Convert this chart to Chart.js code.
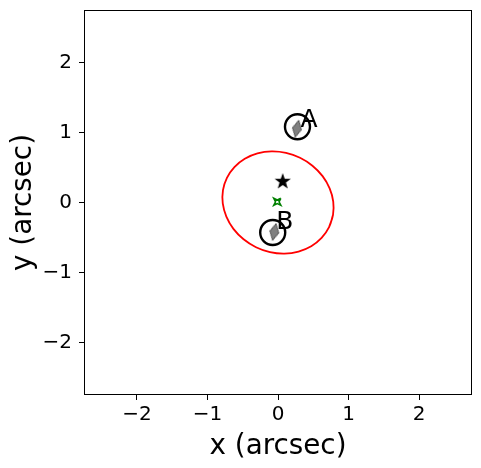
<!DOCTYPE html>
<html>
<head>
<meta charset="utf-8">
<script src="https://cdn.jsdelivr.net/npm/chart.js@4"></script>
<style>
html,body{margin:0;padding:0;background:#fff;}
canvas{display:block;}
</style>
</head>
<body>
<canvas id="c" width="481" height="468"></canvas>
<script>
// ---- data ----
const xTicks = [-2, -1, 0, 1, 2];
const yTicks = [-2, -1, 0, 1, 2];
const axisRange = [-2.75, 2.75];

// critical curve (red), traced points
const critX = [0.724, 0.780, 0.783, 0.732, 0.632, 0.488, 0.312, 0.114, -0.092, -0.291, -0.471, -0.618,
               -0.724, -0.780, -0.783, -0.732, -0.632, -0.488, -0.312, -0.114, 0.092, 0.291, 0.471, 0.618];
const critY = [-0.353, -0.176, 0.014, 0.202, 0.377, 0.526, 0.639, 0.709, 0.730, 0.701, 0.625, 0.506,
               0.353, 0.176, -0.014, -0.202, -0.377, -0.526, -0.639, -0.709, -0.730, -0.701, -0.625, -0.506];

// caustic (green), traced points
const causX = [0.040, -0.010, -0.060, -0.035, -0.060, -0.010, 0.040, 0.015, 0.040];
const causY = [0.060, 0.035, 0.060, 0.010, -0.040, -0.015, -0.040, 0.010, 0.060];

// lens position (star)
const lensX = [0.067];
const lensY = [0.307];

// observed images (open circles)
const obsX = [0.276, -0.075];
const obsY = [1.083, -0.429];

// model images (grey diamonds)
const modX = [0.269, -0.052];
const modY = [1.054, -0.421];

// image labels
const labelText = ['A', 'B'];
const labelX = [0.319, -0.025];
const labelY = [1.079, -0.374];

// ---- build ----
function pts(xs, ys) { return xs.map((x, i) => ({x: x, y: ys[i]})); }
const critPts = pts(critX, critY);
const critLoop = critPts.concat([critPts[0], critPts[1]]);

function makeStar() {
  const c = document.createElement('canvas');
  c.width = 20; c.height = 20;
  const g = c.getContext('2d');
  g.fillStyle = '#000';
  g.beginPath();
  for (let i = 0; i < 10; i++) {
    const r = (i % 2 === 0) ? 8.5 : 3.4;
    const a = -Math.PI / 2 + i * Math.PI / 5;
    const px = 10 + r * Math.cos(a), py = 10.5 + r * Math.sin(a);
    if (i === 0) g.moveTo(px, py); else g.lineTo(px, py);
  }
  g.closePath();
  g.fill();
  return c;
}
function makeDiamond() {
  const c = document.createElement('canvas');
  c.width = 14; c.height = 22;
  const g = c.getContext('2d');
  g.fillStyle = '#808080';
  g.strokeStyle = '#505050';
  g.lineWidth = 1;
  g.beginPath();
  g.moveTo(7, 2.5); g.lineTo(11.5, 11); g.lineTo(7, 19.5); g.lineTo(2.5, 11);
  g.closePath();
  g.fill(); g.stroke();
  return c;
}

const framePlugin = {
  id: 'frame',
  afterDatasetsDraw(chart) {
    const {ctx, scales} = chart;
    ctx.save();
    ctx.fillStyle = '#000';
    ctx.font = '25px "DejaVu Sans"';
    ctx.textAlign = 'left';
    ctx.textBaseline = 'alphabetic';
    labelText.forEach((t, i) => {
      ctx.fillText(t, scales.x.getPixelForValue(labelX[i]), scales.y.getPixelForValue(labelY[i]));
    });
    ctx.restore();
  },
  afterDraw(chart) {
    const {ctx, chartArea: a} = chart;
    ctx.save();
    ctx.strokeStyle = '#000';
    ctx.lineWidth = 1;
    ctx.strokeRect(Math.round(a.left) + 0.5, Math.round(a.top) + 0.5,
                   Math.round(a.right - a.left) - 1, Math.round(a.bottom - a.top) - 1);
    ctx.restore();
  }
};

const tickFmt = v => (v < 0 ? '\u2212' + Math.abs(v) : String(v));
function zeroPad(s) { s.paddingTop = 0; s.paddingBottom = 0; s.paddingLeft = 0; s.paddingRight = 0; }

new Chart(document.getElementById('c'), {
  type: 'scatter',
  data: {
    datasets: [
      { data: pts(obsX, obsY), pointStyle: 'circle', pointRadius: 12.5, pointBorderWidth: 2.4,
        borderColor: '#000', backgroundColor: 'rgba(0,0,0,0)', order: 1 },
      { data: pts(modX, modY), pointStyle: makeDiamond(), pointRotation: 12, pointRadius: 8, order: 2 },
      { data: pts(lensX, lensY), pointStyle: makeStar(), pointRadius: 9, order: 3 },
      { data: pts(causX, causY), showLine: true, borderColor: '#008000', borderWidth: 1.6,
        pointRadius: 0, tension: 0, order: 4 },
      { data: critLoop, showLine: true, borderColor: '#ff0000', borderWidth: 1.8,
        pointRadius: 0, tension: 0.4, order: 5 }
    ]
  },
  options: {
    responsive: false,
    devicePixelRatio: 1,
    animation: false,
    events: [],
    layout: { autoPadding: false, padding: { top: 10, right: 9, left: 0, bottom: 0 } },
    plugins: { legend: { display: false }, tooltip: { enabled: false } },
    scales: {
      x: {
        type: 'linear', position: 'bottom', min: axisRange[0], max: axisRange[1],
        afterBuildTicks: s => { s.ticks = xTicks.map(v => ({value: v})); },
        afterFit: s => { s.height = 73; zeroPad(s); },
        grid: { drawOnChartArea: false, drawTicks: true, tickLength: 5, color: '#000', tickWidth: 1 },
        border: { display: false },
        ticks: { callback: tickFmt, padding: 3, color: '#000', maxRotation: 0,
                 font: { family: 'DejaVu Sans', size: 20 } },
        title: { display: true, text: 'x (arcsec)', color: '#000',
                 font: { family: 'DejaVu Sans', size: 27.8, lineHeight: 1 }, padding: { top: 0, bottom: 7 } }
      },
      y: {
        type: 'linear', position: 'left', min: axisRange[0], max: axisRange[1],
        afterBuildTicks: s => { s.ticks = yTicks.map(v => ({value: v})); },
        afterFit: s => { s.width = 84; zeroPad(s); },
        grid: { drawOnChartArea: false, drawTicks: true, tickLength: 5, color: '#000', tickWidth: 1 },
        border: { display: false },
        ticks: { callback: tickFmt, padding: 7, color: '#000',
                 font: { family: 'DejaVu Sans', size: 20 } },
        title: { display: true, text: 'y (arcsec)', color: '#000',
                 font: { family: 'DejaVu Sans', size: 27.8, lineHeight: 1 }, padding: { top: 10, bottom: 0 } }
      }
    }
  },
  plugins: [framePlugin]
});
</script>
</body>
</html>
